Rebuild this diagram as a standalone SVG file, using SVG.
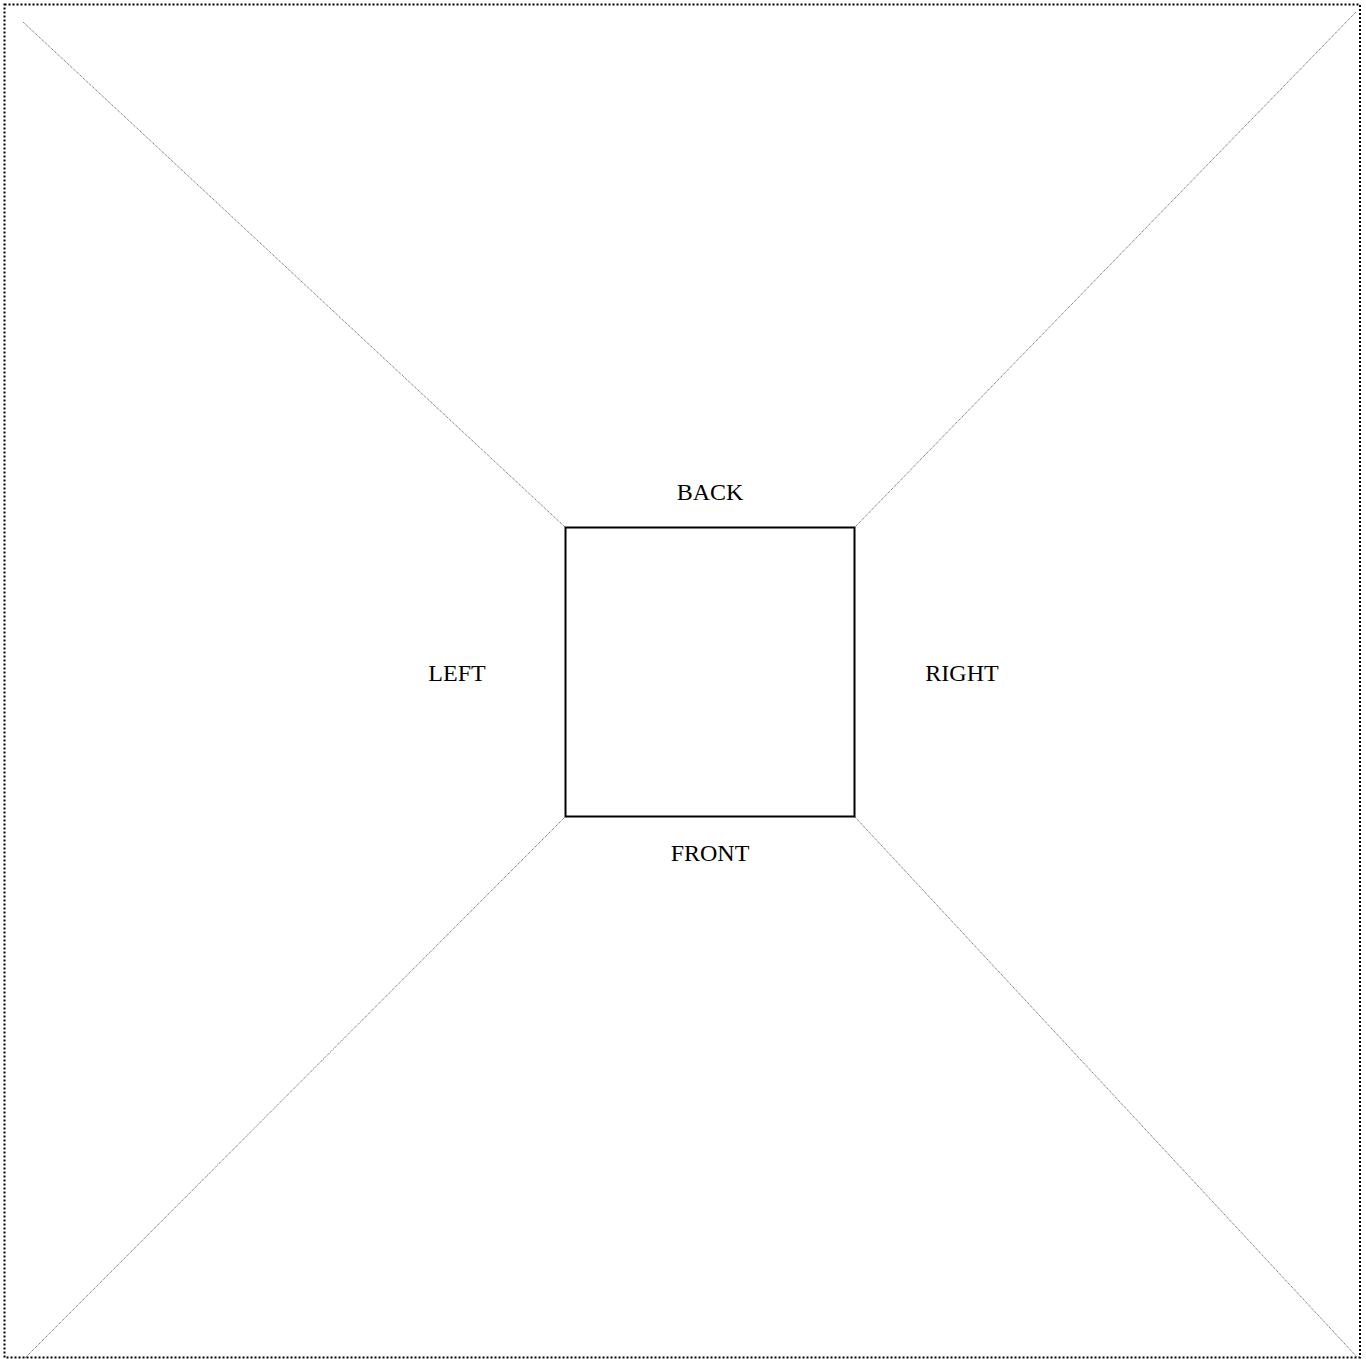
<svg xmlns="http://www.w3.org/2000/svg" width="1366" height="1359" viewBox="0 0 1366 1359">
<style>
.frame{fill:none;stroke:#000;stroke-width:2;stroke-dasharray:2,2}
.diag{fill:none;stroke:#555;stroke-width:1;stroke-dasharray:1,1}
.box{fill:#fff;stroke:#000;stroke-width:2}
.lbl{font-family:"Liberation Serif","Times New Roman",serif;font-size:24px;fill:#000;text-anchor:middle}
</style>
<rect width="1366" height="1359" fill="#fff"/>
<rect class="frame" x="4.5" y="4.5" width="1355.5" height="1353"/>
<g id="connectors">
<line class="diag" x1="23" y1="22" x2="565" y2="527"/>
<line class="diag" x1="1356" y1="12" x2="855" y2="527"/>
<line class="diag" x1="25" y1="1358" x2="565" y2="817"/>
<line class="diag" x1="1357" y1="1357" x2="855" y2="817"/>
</g>
<g id="room">
<rect class="box" x="565.5" y="527.5" width="289" height="289"/>
</g>
<g id="back"><text class="lbl" x="710" y="500">BACK</text></g>
<g id="left"><text class="lbl" x="457" y="681">LEFT</text></g>
<g id="right"><text class="lbl" x="962" y="681">RIGHT</text></g>
<g id="front"><text class="lbl" x="710" y="861">FRONT</text></g>
</svg>
